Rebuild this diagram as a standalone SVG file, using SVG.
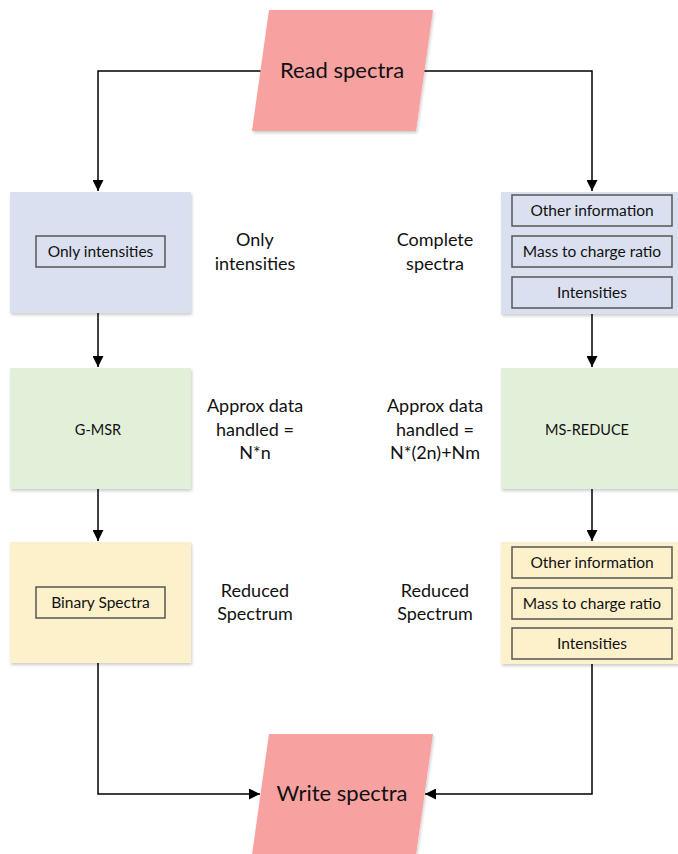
<svg xmlns="http://www.w3.org/2000/svg" width="678" height="854" viewBox="0 0 678 854">
<defs>
<marker id="arr" markerUnits="userSpaceOnUse" markerWidth="11" markerHeight="11" viewBox="0 0 10 10" refX="10" refY="5" orient="auto">
<path d="M0,0 L10,5 L0,10 z" fill="#000"/>
</marker>
<filter id="sh" x="-10%" y="-10%" width="120%" height="120%">
<feDropShadow dx="1" dy="2" stdDeviation="1.5" flood-color="#000" flood-opacity="0.2"/>
</filter>
</defs>
<style>
text{font-family:Lato,"Open Sans","Liberation Sans",sans-serif;fill:#111;text-anchor:middle}
.io{fill:#F8A1A1;filter:url(#sh)}
.blue{fill:#DAE0F0;filter:url(#sh)}
.green{fill:#E2EFD9;filter:url(#sh)}
.yellow{fill:#FDF1CB;filter:url(#sh)}
.inb{fill:#DAE0F0;stroke:#555;stroke-width:1.5}
.iny{fill:#FDF1CB;stroke:#555;stroke-width:1.5}
.big{font-size:22px}
.lbl{font-size:18px}
.small{font-size:15.5px}
.tiny{font-size:14.5px}
.conn{fill:none;stroke:#000;stroke-width:1.5}
</style>
<rect width="678" height="854" fill="#fff"/>
<g id="connectors">
<path class="conn" d="M262,71 H98 V191" marker-end="url(#arr)"/>
<path class="conn" d="M422,71 H592 V191" marker-end="url(#arr)"/>
<path class="conn" d="M98,313 V367" marker-end="url(#arr)"/>
<path class="conn" d="M592,314 V367" marker-end="url(#arr)"/>
<path class="conn" d="M98,489 V541" marker-end="url(#arr)"/>
<path class="conn" d="M592,489 V541" marker-end="url(#arr)"/>
<path class="conn" d="M98,663 V794 H260" marker-end="url(#arr)"/>
<path class="conn" d="M592,664 V794 H425" marker-end="url(#arr)"/>
</g>
<g id="read-spectra">
<polygon class="io" points="269,10 433,10 416,131 252,131"/>
<text class="big" x="342" y="78">Read spectra</text>
</g>
<g id="only-intensities-node">
<rect class="blue" x="10" y="192" width="181" height="121"/>
<rect class="inb" x="36" y="236" width="129" height="31"/>
<text class="small" x="100.5" y="257">Only intensities</text>
</g>
<g id="complete-spectra-node">
<rect class="blue" x="501" y="192" width="180" height="122"/>
<rect class="inb" x="512" y="195" width="160" height="31"/>
<text class="small" x="592" y="216">Other information</text>
<rect class="inb" x="512" y="236" width="160" height="31"/>
<text class="small" x="592" y="257">Mass to charge ratio</text>
<rect class="inb" x="512" y="277" width="160" height="31"/>
<text class="small" x="592" y="298">Intensities</text>
</g>
<g id="label-only">
<text class="lbl" x="255" y="246">Only</text>
<text class="lbl" x="255" y="270">intensities</text>
</g>
<g id="label-complete">
<text class="lbl" x="435" y="246">Complete</text>
<text class="lbl" x="435" y="270">spectra</text>
</g>
<g id="gmsr">
<rect class="green" x="10" y="368" width="181" height="121"/>
<text class="tiny" x="98" y="435">G-MSR</text>
</g>
<g id="msreduce">
<rect class="green" x="501" y="368" width="180" height="121"/>
<text class="tiny" x="587" y="435">MS-REDUCE</text>
</g>
<g id="label-approx-left">
<text class="lbl" x="255" y="412">Approx data</text>
<text class="lbl" x="255" y="436">handled =</text>
<text class="lbl" x="255" y="459">N*n</text>
</g>
<g id="label-approx-right">
<text class="lbl" x="435" y="412">Approx data</text>
<text class="lbl" x="435" y="436">handled =</text>
<text class="lbl" x="435" y="459">N*(2n)+Nm</text>
</g>
<g id="binary-node">
<rect class="yellow" x="10" y="542" width="181" height="121"/>
<rect class="iny" x="36" y="587" width="129" height="31"/>
<text class="small" x="100.5" y="608">Binary Spectra</text>
</g>
<g id="reduced-right-node">
<rect class="yellow" x="501" y="542" width="180" height="122"/>
<rect class="iny" x="512" y="547" width="160" height="31"/>
<text class="small" x="592" y="568">Other information</text>
<rect class="iny" x="512" y="588" width="160" height="31"/>
<text class="small" x="592" y="609">Mass to charge ratio</text>
<rect class="iny" x="512" y="628" width="160" height="31"/>
<text class="small" x="592" y="649">Intensities</text>
</g>
<g id="label-reduced-left">
<text class="lbl" x="255" y="597">Reduced</text>
<text class="lbl" x="255" y="620">Spectrum</text>
</g>
<g id="label-reduced-right">
<text class="lbl" x="435" y="597">Reduced</text>
<text class="lbl" x="435" y="620">Spectrum</text>
</g>
<g id="write-spectra">
<polygon class="io" points="269,734 433,734 416,855 252,855"/>
<text class="big" x="342" y="801">Write spectra</text>
</g>
</svg>
